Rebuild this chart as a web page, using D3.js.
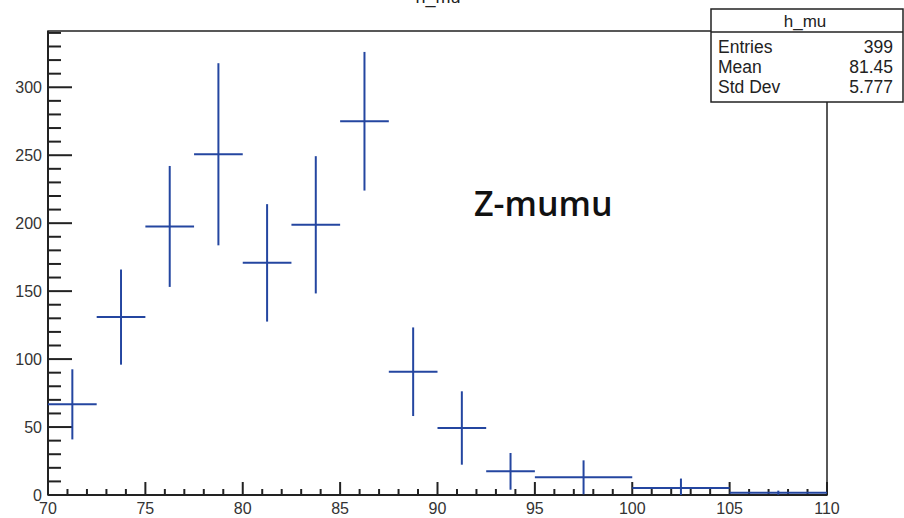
<!DOCTYPE html>
<html><head><meta charset="utf-8">
<script src="https://cdn.jsdelivr.net/npm/d3@7"></script>
<style>body{margin:0;background:#fff}svg{display:block}</style>
</head><body>
<script>
const binEdges = [70,72.5,75,77.5,80,82.5,85,87.5,90,92.5,95,100,105,110];
const binValues = [66.7,130.9,197.6,250.7,170.8,198.8,275,90.7,49.3,17.4,13,5.1,1.7];
const binErrors = [25.8,35,44.5,67,43.2,50.5,51,32.6,27,13.5,12.5,7,1.5];
const xTicks = [70,75,80,85,90,95,100,105,110];
const yTicks = [0,50,100,150,200,250,300];
const statsLabels = ["Entries","Mean","Std Dev"];
const statsValues = ["399","81.45","5.777"];

const W=904,H=518;
const svg=d3.select("body").append("svg").attr("width",W).attr("height",H);
const x=d3.scaleLinear().domain([70,110]).range([48,827]);
const y=d3.scaleLinear().domain([0,341.4]).range([495,31]);
const blue="#2446a0";
const font="Liberation Sans, Arial, sans-serif";

// title (clipped at top, as in the reference)
svg.append("text").attr("x",438).attr("y",3).attr("text-anchor","middle")
  .attr("font-family",font).attr("font-size",18).attr("fill","#222").text("h_mu");

// frame
svg.append("rect").attr("x",x(70)).attr("y",y(341.4)).attr("width",x(110)-x(70)).attr("height",y(0)-y(341.4))
  .attr("fill","none").attr("stroke","#222").attr("stroke-width",1.5);

// ticks
const g=svg.append("g").attr("stroke","#222").attr("stroke-width",2);
d3.range(0,341,10).forEach(v=>{
  const major=v%50===0;
  g.append("line").attr("x1",x(70)).attr("x2",x(70)+(major?24:13)).attr("y1",y(v)).attr("y2",y(v));
});
d3.range(70,111,1).forEach(v=>{
  const major=v%5===0;
  g.append("line").attr("y1",y(0)).attr("y2",y(0)-(major?13:6)).attr("x1",x(v)).attr("x2",x(v));
});
g.append("line").attr("x1",x(70)).attr("x2",x(110)).attr("y1",y(0)).attr("y2",y(0));
g.append("line").attr("x1",x(70)).attr("x2",x(70)).attr("y1",y(0)).attr("y2",y(341.4));

svg.append("g").selectAll("text").data(yTicks).join("text")
  .attr("x",42).attr("y",d=>y(d)+6).attr("text-anchor","end")
  .attr("font-family",font).attr("font-size",16).attr("fill","#333").text(d=>d);
svg.append("g").selectAll("text").data(xTicks).join("text")
  .attr("x",d=>x(d)).attr("y",514).attr("text-anchor","middle")
  .attr("font-family",font).attr("font-size",16).attr("fill","#333").text(d=>d);

// histogram crosses
const hg=svg.append("g").attr("stroke",blue).attr("stroke-width",2);
binValues.forEach((v,i)=>{
  const lo=binEdges[i],hi=binEdges[i+1],c=(lo+hi)/2,e=binErrors[i];
  hg.append("line").attr("x1",x(lo)).attr("x2",x(hi)).attr("y1",y(v)).attr("y2",y(v));
  hg.append("line").attr("x1",x(c)).attr("x2",x(c)).attr("y1",y(Math.max(0,v-e))).attr("y2",y(v+e));
});

// Z-mumu label
svg.append("text").attr("x",474).attr("y",216).attr("font-family","Open Sans, Lato, sans-serif")
  .attr("font-weight",600).attr("font-size",34).attr("fill","#111").text("Z-mumu");

// stats box
const sb=svg.append("g");
sb.append("rect").attr("x",711).attr("y",9).attr("width",192).attr("height",93)
  .attr("fill","#fff").attr("stroke","#222").attr("stroke-width",1.5);
sb.append("line").attr("x1",711).attr("x2",903).attr("y1",32).attr("y2",32).attr("stroke","#222").attr("stroke-width",1.5);
sb.append("text").attr("x",805).attr("y",27).attr("text-anchor","middle").attr("font-family",font).attr("font-size",17).attr("fill","#222").text("h_mu");
statsLabels.forEach((l,i)=>{
  const yy=53+i*20;
  sb.append("text").attr("x",718).attr("y",yy).attr("font-family",font).attr("font-size",17.5).attr("fill","#222").text(l);
  sb.append("text").attr("x",893).attr("y",yy).attr("text-anchor","end").attr("font-family",font).attr("font-size",17.5).attr("fill","#222").text(statsValues[i]);
});
</script>
</body></html>
